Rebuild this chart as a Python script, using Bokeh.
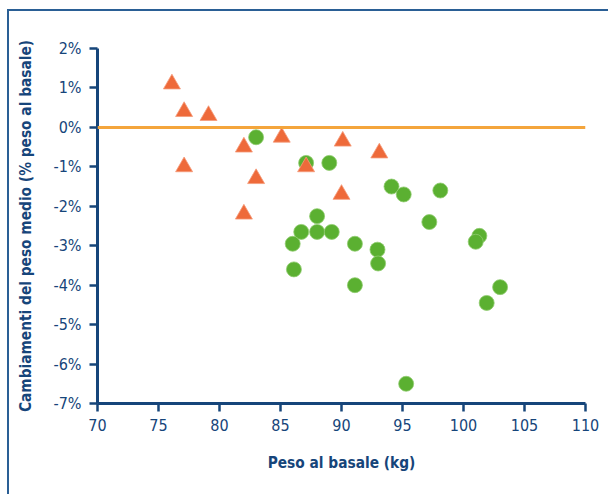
from bokeh.plotting import figure
from bokeh.models import FixedTicker, Span
from bokeh.embed import file_html
from bokeh.resources import INLINE

# Baseline body weight (kg) and mean weight change (% of baseline)
tri_weight = [76.1, 77.1, 79.1, 77.1, 82.0, 85.1, 83.0, 82.0, 87.1, 90.1, 90.0, 93.1]
tri_change = [1.1, 0.4, 0.3, -1.0, -0.5, -0.25, -1.3, -2.2, -1.0, -0.35, -1.7, -0.65]

circ_weight = [83.0, 87.1, 89.0, 94.1, 95.1, 98.1, 88.0, 97.2, 86.7, 88.0, 89.2,
               86.0, 91.1, 92.95, 93.0, 86.1, 91.1, 101.3, 101.0, 103.0, 101.9, 95.3]
circ_change = [-0.25, -0.9, -0.9, -1.5, -1.7, -1.6, -2.25, -2.4, -2.65, -2.65, -2.65,
               -2.95, -2.95, -3.1, -3.45, -3.6, -4.0, -2.75, -2.9, -4.05, -4.45, -6.5]

x_ticks = [70, 75, 80, 85, 90, 95, 100, 105, 110]
y_ticks = [2, 1, 0, -1, -2, -3, -4, -5, -6, -7]
y_tick_labels = ["2%", "1%", "0%", "-1%", "-2%", "-3%", "-4%", "-5%", "-6%", "-7%"]

NAVY = "#16457a"
FRAME = "#2a5f95"
FONT = "DejaVu Sans Condensed"

p = figure(
    width=599, height=483,
    frame_width=488, frame_height=355,
    x_range=(70, 110), y_range=(-7, 2),
    output_backend="svg", toolbar_location=None,
    min_border_left=88, min_border_top=37, min_border_right=23, min_border_bottom=91,
)
p.styles = {
    "margin-left": "7px", "margin-top": "9px",
    "border-left": f"2px solid {FRAME}", "border-top": f"2px solid {FRAME}",
}
p.outline_line_color = None
p.grid.visible = False
p.background_fill_color = "white"
p.border_fill_color = "white"

for ax in (p.xaxis[0], p.yaxis[0]):
    ax.axis_line_color = NAVY
    ax.axis_line_width = 3
    ax.major_tick_line_color = NAVY
    ax.major_tick_line_width = 2.5
    ax.major_tick_in = 0
    ax.major_tick_out = 8
    ax.minor_tick_line_color = None
    ax.major_label_text_font = FONT
    ax.major_label_text_font_size = "16px"
    ax.major_label_text_color = NAVY
    ax.axis_label_text_font = FONT
    ax.axis_label_text_font_style = "bold"
    ax.axis_label_text_font_size = "15.3px"
    ax.axis_label_text_color = NAVY

p.xaxis.ticker = FixedTicker(ticks=x_ticks)
p.xaxis.major_label_standoff = 7
p.xaxis.axis_label = "Peso al basale (kg)"
p.xaxis.axis_label_standoff = 20

p.yaxis.ticker = FixedTicker(ticks=y_ticks)
p.yaxis.major_label_overrides = {t: s for t, s in zip(y_ticks, y_tick_labels)}
p.yaxis.major_label_standoff = 8
p.yaxis.axis_label = "Cambiamenti del peso medio (% peso al basale)"
p.yaxis.axis_label_standoff = 15

# zero-change reference line
p.add_layout(Span(location=0, dimension="width", line_color="#f4a53c", line_width=3))

p.scatter(circ_weight, circ_change, marker="circle", size=15,
          fill_color="#5bb031", line_color="#8fcc6e", line_width=0.8)
p.scatter(tri_weight, tri_change, marker="triangle", size=17,
          fill_color="#ee6a3a", line_color="#f59a7a", line_width=0.8)

open("out.html", "w").write(file_html(p, INLINE))
